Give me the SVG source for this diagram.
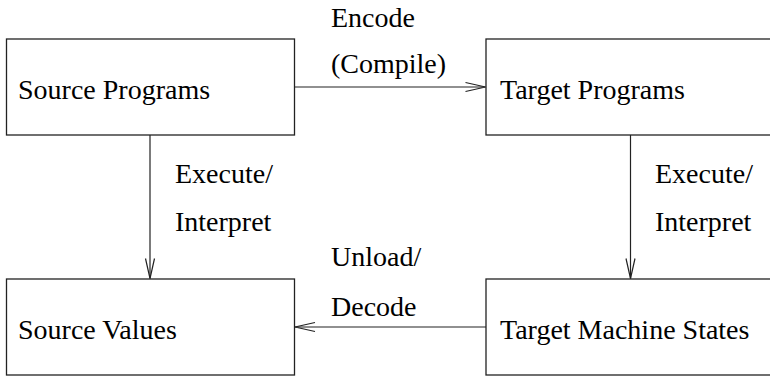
<svg xmlns="http://www.w3.org/2000/svg" width="770" height="377" viewBox="0 0 770 377">
  <style>
    .box { fill: #ffffff; stroke: #222222; stroke-width: 1.3; }
    .edge { fill: none; stroke: #222222; stroke-width: 1.2; }
  </style>
  <defs>
    <marker id="open-arrow" markerUnits="userSpaceOnUse" markerWidth="24" markerHeight="12" viewBox="-22 -6 24 12" refX="0" refY="0" orient="auto" overflow="visible">
      <path d="M-20,-4.5 L0,0 L-20,4.5" fill="none" stroke="#222222" stroke-width="1.2"/>
    </marker>
  </defs>

  <rect width="770" height="377" fill="#ffffff"/>

  <g id="source-programs">
    <rect class="box" x="6.5" y="39" width="288" height="96"/>
    <text style="font-family: 'Liberation Serif', serif; font-size: 28px" x="18" y="99">Source Programs</text>
  </g>

  <g id="target-programs">
    <rect class="box" x="486" y="39" width="288" height="96"/>
    <text style="font-family: 'Liberation Serif', serif; font-size: 28px" x="500" y="99">Target Programs</text>
  </g>

  <g id="source-values">
    <rect class="box" x="6.5" y="279" width="288" height="96"/>
    <text style="font-family: 'Liberation Serif', serif; font-size: 28px" x="18" y="339">Source Values</text>
  </g>

  <g id="target-machine-states">
    <rect class="box" x="486" y="279" width="288" height="96"/>
    <text style="font-family: 'Liberation Serif', serif; font-size: 28px" x="500" y="339">Target Machine States</text>
  </g>

  <g id="connectors">
    <line class="edge" x1="294.5" y1="87" x2="485.5" y2="87" marker-end="url(#open-arrow)"/>
    <text style="font-family: 'Liberation Serif', serif; font-size: 28px" x="331" y="27">Encode</text>
    <text style="font-family: 'Liberation Serif', serif; font-size: 28px" x="331" y="73">(Compile)</text>

    <line class="edge" x1="150" y1="135" x2="150" y2="278.5" marker-end="url(#open-arrow)"/>
    <text style="font-family: 'Liberation Serif', serif; font-size: 28px" x="175" y="183">Execute/</text>
    <text style="font-family: 'Liberation Serif', serif; font-size: 28px" x="175" y="231">Interpret</text>

    <line class="edge" x1="630.5" y1="135" x2="630.5" y2="278.5" marker-end="url(#open-arrow)"/>
    <text style="font-family: 'Liberation Serif', serif; font-size: 28px" x="655" y="183">Execute/</text>
    <text style="font-family: 'Liberation Serif', serif; font-size: 28px" x="655" y="231">Interpret</text>

    <line class="edge" x1="486" y1="327" x2="295" y2="327" marker-end="url(#open-arrow)"/>
    <text style="font-family: 'Liberation Serif', serif; font-size: 28px" x="331" y="266">Unload/</text>
    <text style="font-family: 'Liberation Serif', serif; font-size: 28px" x="331" y="316">Decode</text>
  </g>
</svg>
